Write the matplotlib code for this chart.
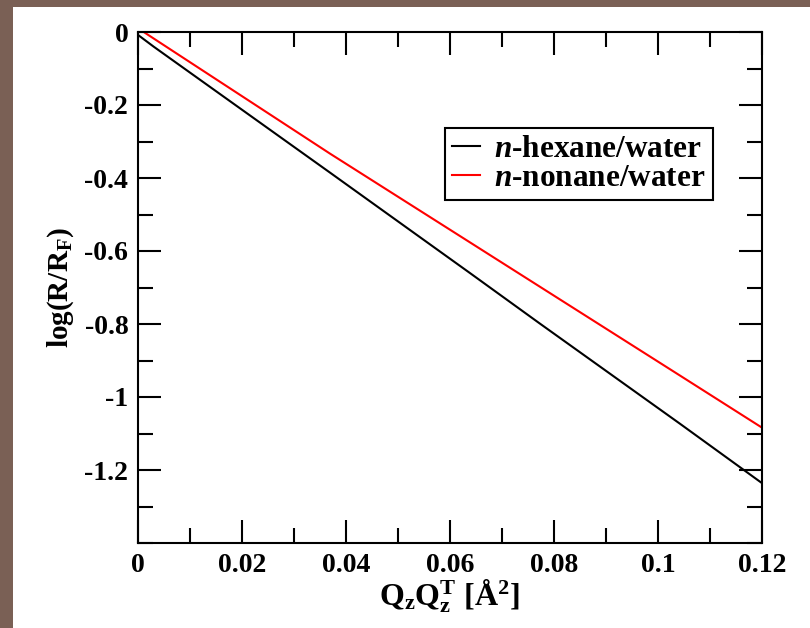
#!/usr/bin/env python3

import matplotlib
matplotlib.use("Agg")
import matplotlib.pyplot as plt
from matplotlib.patches import Rectangle
from matplotlib.ticker import MultipleLocator

# values
qq_hexane = [0.0, 0.003, 0.0369, 0.0638, 0.0773, 0.1042, 0.12]
logr_hexane = [-0.008, -0.040, -0.385, -0.660, -0.799, -1.073, -1.236]
qq_nonane = [0.0011, 0.0369, 0.0638, 0.0773, 0.1042, 0.12]
logr_nonane = [0.0, -0.333, -0.576, -0.698, -0.941, -1.084]

x_ticks = [0, 0.02, 0.04, 0.06, 0.08, 0.1, 0.12]
x_ticklabels = ['0', '0.02', '0.04', '0.06', '0.08', '0.1', '0.12']
y_ticks = [0, -0.2, -0.4, -0.6, -0.8, -1, -1.2]
y_ticklabels = ['0', '-0.2', '-0.4', '-0.6', '-0.8', '-1', '-1.2']

plt.rcParams['font.family'] = ['Liberation Serif', 'DejaVu Serif']
plt.rcParams['font.weight'] = 'bold'
plt.rcParams['axes.labelweight'] = 'bold'
plt.rcParams['mathtext.fontset'] = 'custom'
plt.rcParams['mathtext.rm'] = 'Liberation Serif:bold'
plt.rcParams['mathtext.bf'] = 'Liberation Serif:bold'
plt.rcParams['mathtext.it'] = 'Liberation Serif:italic:bold'

fig = plt.figure(figsize=(8.1, 6.28), dpi=100)
fig.patch.set_facecolor('#7a6055')
# white page inset, brown strip only on left and top
fig.patches.append(Rectangle((13 / 810, 0), 1, 1 - 7 / 628, transform=fig.transFigure,
                             facecolor='white', edgecolor='none', zorder=-10))

ax = fig.add_axes([138 / 810, 85 / 628, 624 / 810, 511 / 628])
ax.set_zorder(5)

ax.plot(qq_hexane, logr_hexane, color='black', lw=1.5, label=r'$\mathit{n}$-hexane/water')
ax.plot(qq_nonane, logr_nonane, color='red', lw=1.5, label=r'$\mathit{n}$-nonane/water')

ax.set_xlim(0, 0.12)
ax.set_ylim(-1.4, 0)
ax.set_xticks(x_ticks)
ax.set_xticklabels(x_ticklabels)
ax.set_yticks(y_ticks)
ax.set_yticklabels(y_ticklabels)
ax.xaxis.set_minor_locator(MultipleLocator(0.01))
ax.yaxis.set_minor_locator(MultipleLocator(0.1))

ax.tick_params(which='both', direction='in', top=True, right=True, width=1.5)
ax.tick_params(which='major', length=16.5, labelsize=20, pad=7)
ax.tick_params(which='minor', length=11)
for s in ax.spines.values():
    s.set_linewidth(1.5)

ax.set_xlabel(r'$\mathrm{Q_zQ_z^T}$ [$\mathrm{\AA^2}$]', fontsize=23, labelpad=0)
ax.set_ylabel(r'log(R/R$_\mathrm{F}$)', fontsize=21, labelpad=6)

leg = ax.legend(loc='upper right', bbox_to_anchor=(0.921, 0.812), fontsize=22.5,
                frameon=True, fancybox=False, framealpha=1, handlelength=0.9,
                handletextpad=0.45, borderpad=0.22, borderaxespad=0, labelspacing=0.0)
leg.get_frame().set_edgecolor('black')
leg.get_frame().set_linewidth(1.5)

plt.savefig('out.png', dpi=100, facecolor=fig.get_facecolor())
